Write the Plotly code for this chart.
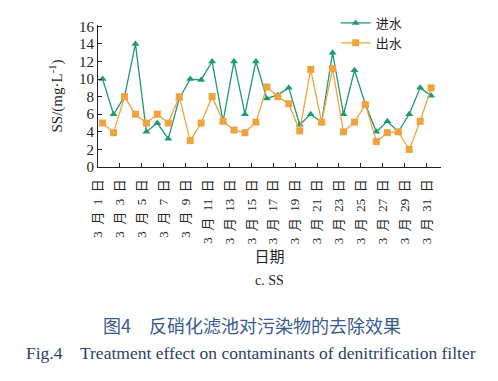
import plotly.graph_objects as go

days = list(range(1, 32))
inflow = [10, 6, 8, 14, 4, 5, 3.2, 7.8, 10, 9.9, 12, 5.2, 12, 6, 12, 7.8,
          8.2, 9, 4.8, 6, 5.1, 13, 6, 11, 7.1, 4, 5.2, 4, 6, 9, 8.1]
outflow = [5, 3.9, 8, 6, 5, 6, 5, 8, 3, 5, 8, 5.2, 4.2, 3.9, 5.1, 9.1,
           8, 7.2, 4.1, 11.1, 5.1, 11.2, 4, 5.1, 7.1, 2.9, 3.9, 4, 2, 5.2, 9]
tick_days = list(range(1, 32, 2))
tick_text = [f"3\u2002月\u2002{d}\u2002日" for d in tick_days]
y_ticks = list(range(0, 17, 2))

GREEN = "#1E9A70"
ORANGE = "#F0A23C"
SERIF = "Liberation Serif, Times New Roman, Noto Sans CJK SC"

fig = go.Figure()
fig.add_trace(go.Scatter(x=days, y=inflow, name="进水", mode="lines+markers",
                         line=dict(color=GREEN, width=1.3),
                         marker=dict(symbol="triangle-up", size=7, color=GREEN)))
fig.add_trace(go.Scatter(x=days, y=outflow, name="出水", mode="lines+markers",
                         line=dict(color=ORANGE, width=1.3),
                         marker=dict(symbol="square", size=7, color=ORANGE)))

fig.update_layout(
    width=498, height=381,
    margin=dict(l=98, r=57, t=25, b=214, autoexpand=False),
    paper_bgcolor="white", plot_bgcolor="white",
    showlegend=True,
    legend=dict(x=0.693, y=1.12, xanchor="left", yanchor="top",
                bgcolor="rgba(0,0,0,0)", itemwidth=30, tracegroupgap=0,
                font=dict(family=SERIF, size=13, color="#222")),
    xaxis=dict(range=[0.58, 31.9], tickmode="array", automargin=False,
               tickvals=[d - 0.42 for d in tick_days], ticktext=tick_text,
               tickangle=-90, ticks="inside", ticklen=4, tickcolor="#222",
               ticklabelstandoff=6,
               showline=True, linecolor="#222", linewidth=1.2,
               showgrid=False, zeroline=False,
               tickfont=dict(family=SERIF, size=13, color="#222"),
               title=dict(text="日期", font=dict(family=SERIF, size=15, color="#222"),
                          standoff=8)),
    yaxis=dict(range=[0, 16.15], tickmode="array", tickvals=y_ticks, automargin=False,
               ticks="inside", ticklen=4, tickcolor="#222",
               showline=True, linecolor="#222", linewidth=1.2,
               showgrid=False, zeroline=False,
               tickfont=dict(family=SERIF, size=15, color="#222"),
               title=dict(text="SS/(mg·L<sup>-1</sup>)",
                          font=dict(family=SERIF, size=15, color="#222"),
                          standoff=12)),
)

fig.add_annotation(text="c. SS", xref="paper", yref="paper", x=0.5, y=-0.796,
                   yanchor="middle", showarrow=False,
                   font=dict(family=SERIF, size=14, color="#222"))
fig.add_annotation(text="图4　反硝化滤池对污染物的去除效果", xref="paper", yref="paper",
                   x=0.45, y=-1.113, xanchor="center", yanchor="middle", showarrow=False,
                   font=dict(family="Noto Sans CJK SC", size=18, color="#3A5A92"))
fig.add_annotation(text="Fig.4　Treatment effect on contaminants of denitrification filter",
                   xref="paper", yref="paper", x=0.445, y=-1.31, xanchor="center",
                   yanchor="middle", showarrow=False,
                   font=dict(family=SERIF, size=17.5, color="#2C3F6C"))

fig.write_html("out.html", config={"displayModeBar": False},
               post_script="document.body.style.margin='0px';")
